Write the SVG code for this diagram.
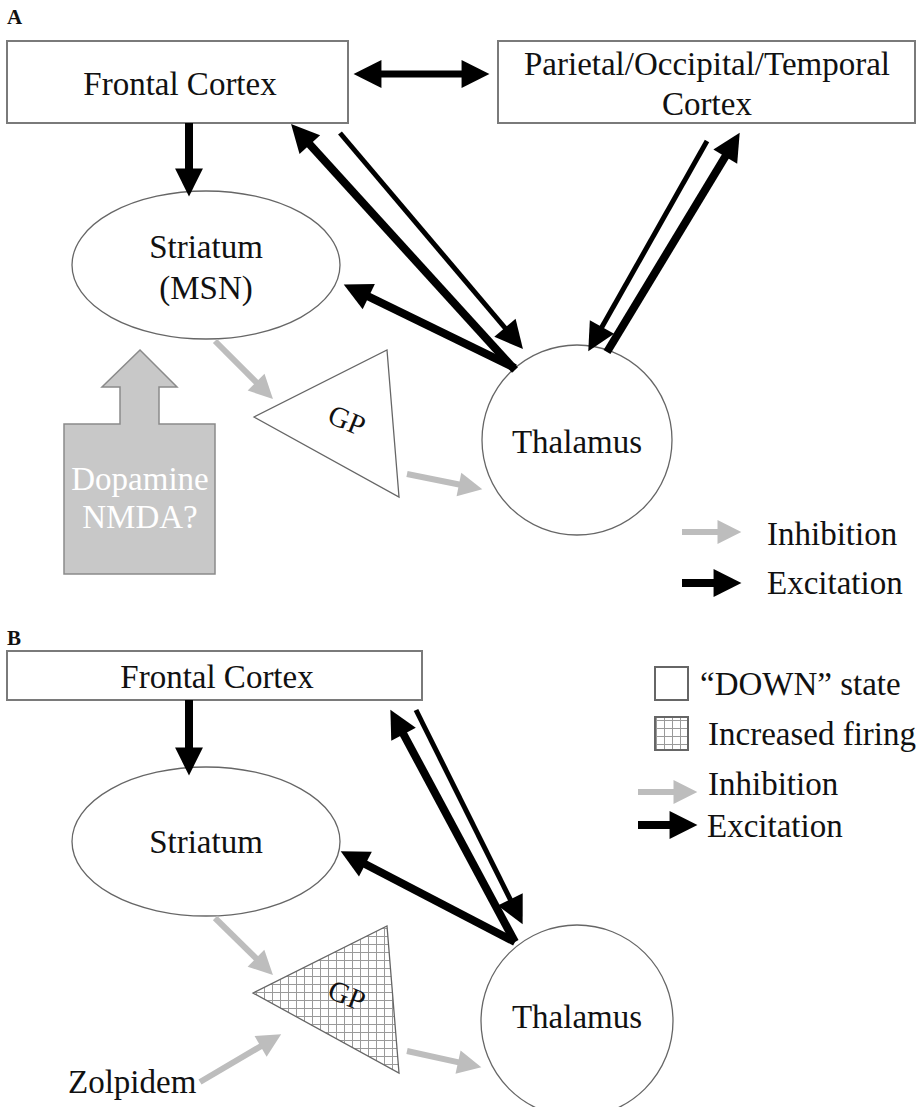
<svg xmlns="http://www.w3.org/2000/svg" width="917" height="1107" viewBox="0 0 917 1107">
<style>
text{font-family:"Liberation Serif","Times New Roman",serif;fill:#111}
.t{font-size:33px}
.lbl{font-size:21px;font-weight:bold}
.box{fill:#fff;stroke:#7a7a7a;stroke-width:2}
.node{fill:#fff;stroke:#666;stroke-width:1.3}
.ex{stroke:#000;stroke-width:8;fill:none;marker-end:url(#hb)}
.ex2{stroke:#000;stroke-width:5;fill:none;marker-end:url(#hb)}
.in{stroke:#bdbdbd;stroke-width:6;fill:none;marker-end:url(#hg)}
</style>
<defs>
<marker id="hb" markerUnits="userSpaceOnUse" markerWidth="30" markerHeight="30" viewBox="0 -14 26 28" refX="6" refY="0" orient="auto-start-reverse"><path d="M0,-13 L26,0 L0,13 z" fill="#000"/></marker>
<marker id="hg" markerUnits="userSpaceOnUse" markerWidth="26" markerHeight="26" viewBox="0 -12 22 24" refX="6" refY="0" orient="auto"><path d="M0,-11 L22,0 L0,11 z" fill="#bdbdbd"/></marker>
<pattern id="hatch" patternUnits="userSpaceOnUse" width="8" height="8"><rect width="8" height="8" fill="#fff"/><path d="M0,0.5 H8 M0.5,0 V8" stroke="#9a9a9a" stroke-width="1"/></pattern>
</defs>

<!-- Panel A -->
<text class="lbl" x="7" y="24">A</text>
<g id="a-frontal"><rect class="box" x="7" y="41" width="341" height="82"/><text class="t" x="180" y="95" text-anchor="middle">Frontal Cortex</text></g>
<g id="a-parietal"><rect class="box" x="498" y="41" width="417" height="82"/><text class="t" x="707" y="75" text-anchor="middle">Parietal/Occipital/Temporal</text><text class="t" x="707" y="115" text-anchor="middle">Cortex</text></g>
<g id="a-striatum"><ellipse class="node" cx="206" cy="265" rx="134" ry="74"/><text class="t" x="206" y="258" text-anchor="middle">Striatum</text><text class="t" x="206" y="299" text-anchor="middle">(MSN)</text></g>
<g id="a-gp"><polygon class="node" points="254,417 387,350 399,497"/><text x="347" y="430" font-size="29" text-anchor="middle" transform="rotate(22 347 420)">GP</text></g>
<g id="a-thalamus"><circle class="node" cx="577" cy="440" r="95"/><text class="t" x="577" y="453" text-anchor="middle">Thalamus</text></g>
<g id="a-dopamine"><polygon points="64,424 120,424 120,387 102,387 140,350 177,387 159,387 159,424 215,424 215,574 64,574" fill="#c8c8c8" stroke="#8a8a8a" stroke-width="1.5"/><text class="t" x="140" y="490" text-anchor="middle" style="fill:#fff">Dopamine</text><text class="t" x="140" y="528" text-anchor="middle" style="fill:#fff">NMDA?</text></g>

<g id="a-connectors">
<line class="ex" x1="189" y1="123" x2="189" y2="175"/>
<line x1="375" y1="74" x2="468" y2="74" stroke="#000" stroke-width="7" marker-start="url(#hb)" marker-end="url(#hb)"/>
<line class="ex" x1="515" y1="370" x2="305.5" y2="139.8"/>
<line class="ex2" x1="340" y1="133" x2="509.1" y2="332.7"/>
<line class="ex" x1="515" y1="368" x2="363" y2="293.8"/>
<line class="ex2" x1="707" y1="141" x2="598.8" y2="332.6"/>
<line class="ex" x1="607" y1="352" x2="728.6" y2="151.1"/>
<line class="in" x1="215" y1="341" x2="260.7" y2="386.7"/>
<line class="in" x1="407" y1="474" x2="465.3" y2="485.8"/>
</g>

<g id="a-legend">
<line class="in" x1="682" y1="532" x2="724" y2="532"/>
<text class="t" x="767" y="545">Inhibition</text>
<line class="ex" x1="682" y1="583" x2="720" y2="583"/>
<text class="t" x="767" y="594">Excitation</text>
</g>

<!-- Panel B -->
<text class="lbl" x="7" y="645">B</text>
<g id="b-frontal"><rect class="box" x="7" y="651" width="415" height="49"/><text class="t" x="217" y="688" text-anchor="middle">Frontal Cortex</text></g>
<g id="b-striatum"><ellipse class="node" cx="206" cy="841.5" rx="134" ry="74.5"/><text class="t" x="206" y="853" text-anchor="middle">Striatum</text></g>
<g id="b-gp"><polygon points="253,993 387,926 399,1073" fill="url(#hatch)" stroke="#666" stroke-width="1.3"/><text x="347" y="1005" font-size="29" text-anchor="middle" transform="rotate(22 347 995)">GP</text></g>
<g id="b-thalamus"><circle class="node" cx="577" cy="1021" r="96"/><text class="t" x="577" y="1028" text-anchor="middle">Thalamus</text></g>
<g id="b-zolpidem"><text class="t" x="68" y="1093">Zolpidem</text></g>

<g id="b-connectors">
<line class="ex" x1="189" y1="700" x2="189" y2="754"/>
<line class="ex" x1="515" y1="942" x2="400.5" y2="728.6"/>
<line class="ex2" x1="416" y1="710" x2="513.1" y2="905.1"/>
<line class="ex" x1="515" y1="942" x2="359.7" y2="861.2"/>
<line class="in" x1="215" y1="918" x2="260.6" y2="962.8"/>
<line class="in" x1="200" y1="1082" x2="266.2" y2="1043.1"/>
<line class="in" x1="407" y1="1051" x2="464.4" y2="1063.6"/>
</g>

<g id="b-legend">
<rect x="655" y="667" width="33" height="33" fill="#fff" stroke="#666" stroke-width="2"/>
<text class="t" x="700" y="695">“DOWN” state</text>
<rect x="655" y="717" width="33" height="33" fill="url(#hatch)" stroke="#666" stroke-width="2"/>
<text class="t" x="708" y="745">Increased firing</text>
<line class="in" x1="638" y1="792" x2="680" y2="792"/>
<text class="t" x="708" y="795">Inhibition</text>
<line class="ex" x1="638" y1="825" x2="676" y2="825"/>
<text class="t" x="707" y="837">Excitation</text>
</g>
</svg>
